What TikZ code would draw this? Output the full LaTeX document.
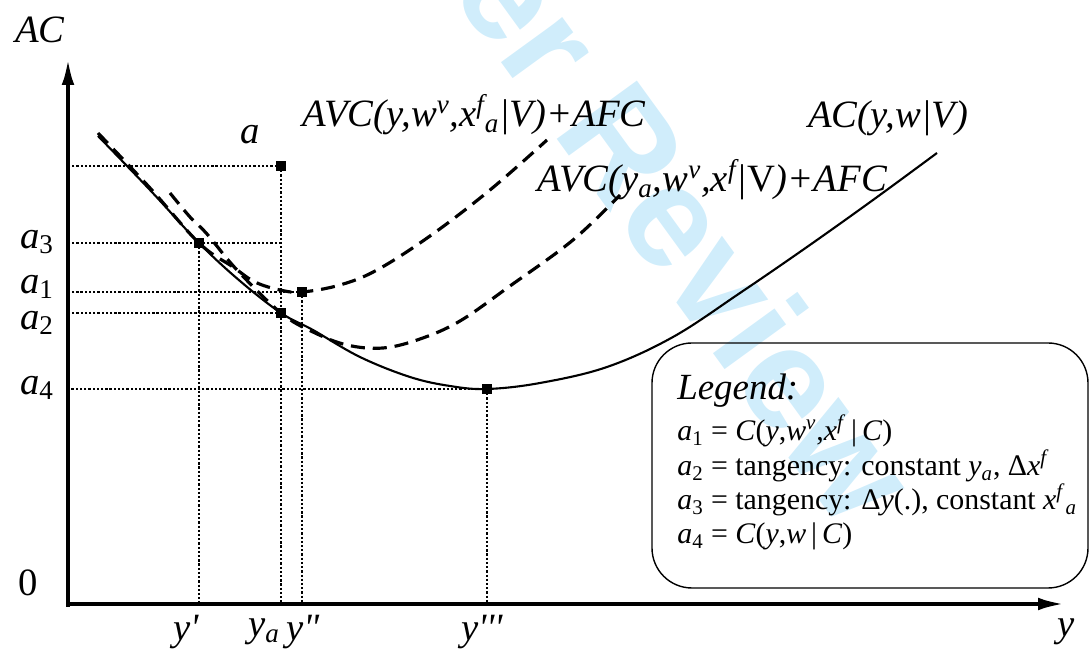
\documentclass[tikz,border=0pt]{standalone}
\usepackage{fontspec}
\setmainfont{Liberation Serif}
\newfontfamily\wmfont{Liberation Sans}
\usetikzlibrary{arrows.meta}
\definecolor{wmblue}{RGB}{208,237,251}
\begin{document}
\begin{tikzpicture}[x=.02cm, y=-.02cm, line join=round,
	font=\fontsize{22}{26}\selectfont\itshape,
	axis/.style={line width=2.6pt, -{Latex[length=.56cm,width=.25cm]}},
	guide/.style={line width=1.5pt, dash pattern=on 1.3pt off 1.1pt},
	avc/.style={line width=1.8pt, dash pattern=on 8pt off 4.5pt},
	marker/.style={fill, inner sep=0pt, minimum size=.19cm},
	legline/.style={font=\fontsize{17}{20}\selectfont\upshape, anchor=base west, inner sep=0pt}]
	\useasboundingbox (0,0) rectangle (1090,651);
	\node[rotate=-54, text=wmblue, font=\wmfont\bfseries\fontsize{82}{82}\selectfont] (wm) at (556,50) {For Peer Review};
	% axes
	\coordinate (O) at (68,604);
	\draw[axis] (68,607) -- (68,57);
	\draw[axis] (66,604) -- (1066,604);
	\node (lac) at (40,30) {AC};
	\node (lzero) at (28,583) {\upshape 0};
	\node (ly) at (1066,632) {y};
	% points
	\node[marker] (a) at (281,166) {};
	\node[marker] (a3) at (199,243) {};
	\node[marker] (a1) at (302,292) {};
	\node[marker] (a2) at (281,313) {};
	\node[marker] (a4) at (487,389) {};
	\node (la) at (250,135) {a};
	% guides
	\draw[guide] (a.center) -- (a -| O);
	\draw[guide] (a3 -| a) -- (a3 -| O);
	\draw[guide] (a1.center) -- (a1 -| O);
	\draw[guide] (a2.center) -- (a2 -| O);
	\draw[guide] (a4.center) -- (a4 -| O);
	\draw[guide] (a.center) -- (a |- O);
	\draw[guide] (a3.center) -- (a3 |- O);
	\draw[guide] (a1.center) -- (a1 |- O);
	\draw[guide] (a4.center) -- (a4 |- O);
	\node (la3) at (37,242) {a\textsubscript{\upshape 3}};
	\node (la1) at (37,287) {a\textsubscript{\upshape 1}};
	\node (la2) at (37,323) {a\textsubscript{\upshape 2}};
	\node (la4) at (37,388) {a\textsubscript{\upshape 4}};
	\node (ly1) at (186,632) {y\textquotesingle};
	\node (lya) at (264,632) {y\textsubscript{a}};
	\node (ly2) at (303,632) {y\textquotedbl};
	\node (ly3) at (482,632) {y\textquotesingle\textquotesingle\textquotesingle};
	% curves
	\draw[line width=1.2pt] plot[smooth, tension=.6] coordinates {(98,136) (150,190) (199,243) (240,281) (281,313) (313,330) (360,357) (410,377) (450,386) (487,389) (540,383) (607,367) (673,337) (740,293) (807,247) (873,200) (937,153)};
	\draw[avc] plot[smooth, tension=.6] coordinates {(98,133) (150,188) (199,243) (233,267) (255,282) (280,290) (302,292) (340,285) (377,270) (430,236) (490,190) (547,140)};
	\draw[avc] plot[smooth, tension=.6] coordinates {(170,193) (190,217) (207,234) (237,270) (281,313) (313,332) (347,345) (383,348) (420,339) (460,321) (510,286) (573,240) (620,195)};
	\node[anchor=base west, inner sep=0pt] (lavc1) at (302,127) {AVC(y,w\textsuperscript{v},x\textsuperscript{f}\textsubscript{a}|V)+AFC};
	\node[anchor=base west, inner sep=0pt] (lavc2) at (537,192) {AVC(y\textsubscript{a},w\textsuperscript{v},x\textsuperscript{f}|\textup{V})+AFC};
	\node[anchor=base west, inner sep=0pt] (lacv) at (808,128) {AC(y,w|V)};
	% legend
	\draw[line width=.8pt, rounded corners=.8cm] (652,343) rectangle (1088,588);
	\node[anchor=base west, inner sep=0pt, font=\fontsize{21}{24}\selectfont\itshape] (leg) at (677,400) {Legend:};
	\node[legline] (l1) at (677,441) {\textit{a}\textsubscript{1} = \textit{C}(\textit{y},\textit{w}\textsuperscript{\textit{v}},\textit{x}\textsuperscript{\textit{f}}\,|\,\textit{C})};
	\node[legline] (l2) at (677,476) {\textit{a}\textsubscript{2} = tangency: constant \textit{y}\textsubscript{\textit{a}}, Δ\textit{x}\textsuperscript{\textit{f}}};
	\node[legline] (l3) at (677,510) {\textit{a}\textsubscript{3} = tangency: Δ\textit{y}(.), constant \textit{x}\textsuperscript{\textit{f}}\textsubscript{\textit{a}}};
	\node[legline] (l4) at (677,544) {\textit{a}\textsubscript{4} = \textit{C}(\textit{y},\textit{w}\,|\,\textit{C})};
\end{tikzpicture}
\end{document}
